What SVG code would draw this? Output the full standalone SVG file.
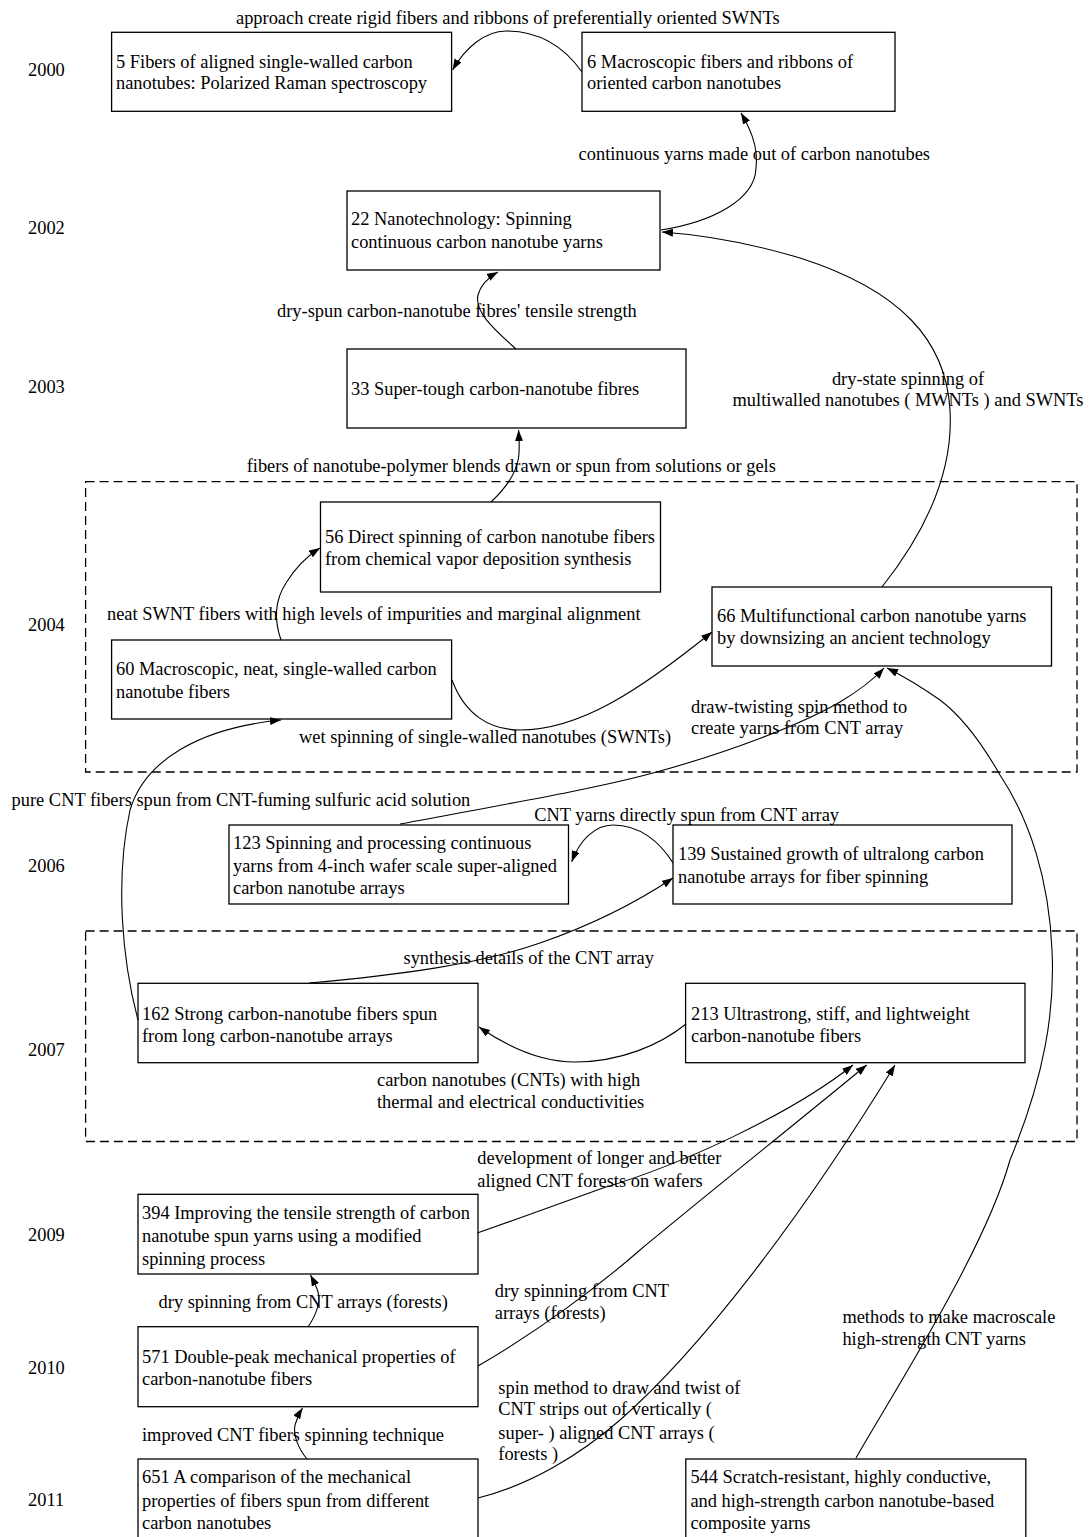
<svg xmlns="http://www.w3.org/2000/svg" width="1091" height="1537" viewBox="0 0 1091 1537">
<style>
text{font-family:"Liberation Serif","Times New Roman",serif;font-size:18.4px;fill:#000}
.box{fill:#fff;stroke:#000;stroke-width:1.3}
.cl{fill:none;stroke:#000;stroke-width:1.3;stroke-dasharray:9,5}
.e{fill:none;stroke:#000;stroke-width:1.1;marker-end:url(#ah)}
.m{text-anchor:middle}
</style>
<defs>
<marker id="ah" markerUnits="userSpaceOnUse" markerWidth="11" markerHeight="8" viewBox="0 0 11 8" refX="11" refY="4" orient="auto">
<path d="M0,0 L11,4 L0,8 z" fill="#000"/>
</marker>
</defs>
<rect width="1091" height="1537" fill="#fff"/>

<g id="years">
<text x="28" y="76">2000</text>
<text x="28" y="234">2002</text>
<text x="28" y="393">2003</text>
<text x="28" y="631">2004</text>
<text x="28" y="872">2006</text>
<text x="28" y="1056">2007</text>
<text x="28" y="1241">2009</text>
<text x="28" y="1374">2010</text>
<text x="28" y="1506">2011</text>
</g>

<g id="clusters">
<rect id="cluster2004" class="cl" x="85.6" y="481.7" width="991.4" height="290.3"/>
<rect id="cluster2007" class="cl" x="85.6" y="931" width="991.4" height="210.5"/>
</g>

<g id="n5"><rect class="box" x="111.6" y="32.3" width="340" height="79"/>
<text x="116" y="68">5 Fibers of aligned single-walled carbon</text>
<text x="116" y="89.3">nanotubes: Polarized Raman spectroscopy</text></g>

<g id="n6"><rect class="box" x="582" y="32.3" width="313" height="79"/>
<text x="587" y="68">6 Macroscopic fibers and ribbons of</text>
<text x="587" y="89.3">oriented carbon nanotubes</text></g>

<g id="n22"><rect class="box" x="347" y="191" width="313" height="79"/>
<text x="351" y="225">22 Nanotechnology: Spinning</text>
<text x="351" y="248">continuous carbon nanotube yarns</text></g>

<g id="n33"><rect class="box" x="347" y="349" width="339" height="79"/>
<text x="351" y="395">33 Super-tough carbon-nanotube fibres</text></g>

<g id="n56"><rect class="box" x="320.5" y="502" width="340" height="90"/>
<text x="325" y="542.7">56 Direct spinning of carbon nanotube fibers</text>
<text x="325" y="565.3">from chemical vapor deposition synthesis</text></g>

<g id="n60"><rect class="box" x="111.6" y="640" width="340" height="79"/>
<text x="116" y="675.3">60 Macroscopic, neat, single-walled carbon</text>
<text x="116" y="697.7">nanotube fibers</text></g>

<g id="n66"><rect class="box" x="712" y="587" width="339.5" height="79"/>
<text x="717" y="622">66 Multifunctional carbon nanotube yarns</text>
<text x="717" y="644">by downsizing an ancient technology</text></g>

<g id="n123"><rect class="box" x="229" y="825" width="339.5" height="79"/>
<text x="233" y="849.3">123 Spinning and processing continuous</text>
<text x="233" y="871.7">yarns from 4-inch wafer scale super-aligned</text>
<text x="233" y="894.3">carbon nanotube arrays</text></g>

<g id="n139"><rect class="box" x="673" y="825" width="339" height="79"/>
<text x="678" y="860.3">139 Sustained growth of ultralong carbon</text>
<text x="678" y="882.7">nanotube arrays for fiber spinning</text></g>

<g id="n162"><rect class="box" x="138" y="983.3" width="340" height="79.4"/>
<text x="142" y="1020">162 Strong carbon-nanotube fibers spun</text>
<text x="142" y="1041.7">from long carbon-nanotube arrays</text></g>

<g id="n213"><rect class="box" x="685.6" y="983.3" width="339.4" height="79.4"/>
<text x="691" y="1020">213 Ultrastrong, stiff, and lightweight</text>
<text x="691" y="1041.7">carbon-nanotube fibers</text></g>

<g id="n394"><rect class="box" x="138" y="1194.3" width="340" height="79.7"/>
<text x="142" y="1219.3">394 Improving the tensile strength of carbon</text>
<text x="142" y="1241.7">nanotube spun yarns using a modified</text>
<text x="142" y="1265">spinning process</text></g>

<g id="n571"><rect class="box" x="138" y="1326.7" width="340" height="80"/>
<text x="142" y="1362.7">571 Double-peak mechanical properties of</text>
<text x="142" y="1385.3">carbon-nanotube fibers</text></g>

<g id="n651"><rect class="box" x="138" y="1459" width="340" height="100"/>
<text x="142" y="1483.3">651 A comparison of the mechanical</text>
<text x="142" y="1506.7">properties of fibers spun from different</text>
<text x="142" y="1528.7">carbon nanotubes</text></g>

<g id="n544"><rect class="box" x="685.8" y="1459" width="340" height="100"/>
<text x="690.4" y="1483.3">544 Scratch-resistant, highly conductive,</text>
<text x="690.4" y="1506.7">and high-strength carbon nanotube-based</text>
<text x="690.4" y="1528.7">composite yarns</text></g>

<g id="edges">
<path class="e" d="M582,72 C565,48 540,31 506,31 C485,31 465,48 452.6,70"/>
<path class="e" d="M661,230 C712,222 755,200 756,168 C759,145 748,125 741,113"/>
<path class="e" d="M882,587 C935,520 953,460 950,410 C946,340 900,290 800,258 C740,240 690,234 662,232"/>
<path class="e" d="M516,349 C495,330 474,312 478,295 C481,284 489,277 498,272"/>
<path class="e" d="M491,502 C506,488 516,474 518.5,458 C520,448 519,440 518.6,430"/>
<path class="e" d="M281,640 C274,620 275,600 286,583 C295,568 306,557 320,548"/>
<path class="e" d="M452,680 C465,715 490,730 520,730 C580,730 640,690 712,632"/>
<path class="e" d="M400,824 C500,805 590,790 653,773 C730,752 800,725 840,702 C860,690 874,679 884,668"/>
<path class="e" d="M138,1020 C122,960 115,880 130,810 C145,760 200,728 281,720"/>
<path class="e" d="M673,863 C660,842 640,825 613,825 C595,825 580,840 571.7,861.7"/>
<path class="e" d="M309,983 C400,975 480,964 540,943 C595,924 640,900 673,878"/>
<path class="e" d="M686,1024 C660,1045 620,1062 575,1062 C540,1062 505,1045 479,1027"/>
<path class="e" d="M477.3,1233 C520,1218 570,1200 603,1188 C680,1165 790,1115 853,1065"/>
<path class="e" d="M478,1366 C540,1330 600,1285 640,1250 C700,1200 800,1120 866.7,1065"/>
<path class="e" d="M478,1498 C530,1485 580,1455 620,1420 C700,1350 800,1220 895,1065"/>
<path class="e" d="M856,1458 C895,1390 985,1250 1010,1160 C1045,1075 1055,1010 1052,950 C1049,880 1030,820 1000,775 C980,740 960,715 940,700 C920,686 905,677 887,668"/>
<path class="e" d="M308,1327 C316,1315 321,1303 318,1292 C316,1285 313,1280 310.5,1275"/>
<path class="e" d="M307,1459 C298,1448 293,1435 295,1425 C297,1418 300,1412 302.5,1408"/>
</g>

<g id="edge-labels">
<text x="236" y="24.3">approach create rigid fibers and ribbons of preferentially oriented SWNTs</text>
<text x="578.6" y="160">continuous yarns made out of carbon nanotubes</text>
<text x="277" y="317">dry-spun carbon-nanotube fibres' tensile strength</text>
<text class="m" x="908" y="385">dry-state spinning of</text>
<text class="m" x="908" y="406">multiwalled nanotubes ( MWNTs ) and SWNTs</text>
<text x="246.7" y="472">fibers of nanotube-polymer blends drawn or spun from solutions or gels</text>
<text x="107" y="620">neat SWNT fibers with high levels of impurities and marginal alignment</text>
<text x="299" y="742.7">wet spinning of single-walled nanotubes (SWNTs)</text>
<text x="691" y="712.7">draw-twisting spin method to</text>
<text x="691" y="734.3">create yarns from CNT array</text>
<text x="11.6" y="805.5">pure CNT fibers spun from CNT-fuming sulfuric acid solution</text>
<text x="534.3" y="821">CNT yarns directly spun from CNT array</text>
<text x="403.5" y="964">synthesis details of the CNT array</text>
<text x="377" y="1085.5">carbon nanotubes (CNTs) with high</text>
<text x="377" y="1107.7">thermal and electrical conductivities</text>
<text x="477.3" y="1164.3">development of longer and better</text>
<text x="477.3" y="1186.7">aligned CNT forests on wafers</text>
<text x="158.6" y="1307.7">dry spinning from CNT arrays (forests)</text>
<text x="494.8" y="1296.7">dry spinning from CNT</text>
<text x="494.8" y="1319">arrays (forests)</text>
<text x="842.4" y="1323">methods to make macroscale</text>
<text x="842.4" y="1345">high-strength CNT yarns</text>
<text x="498.3" y="1393.7">spin method to draw and twist of</text>
<text x="498.3" y="1415.3">CNT strips out of vertically (</text>
<text x="498.3" y="1438.7">super- ) aligned CNT arrays (</text>
<text x="498.3" y="1460">forests )</text>
<text x="142" y="1441">improved CNT fibers spinning technique</text>
</g>
</svg>
